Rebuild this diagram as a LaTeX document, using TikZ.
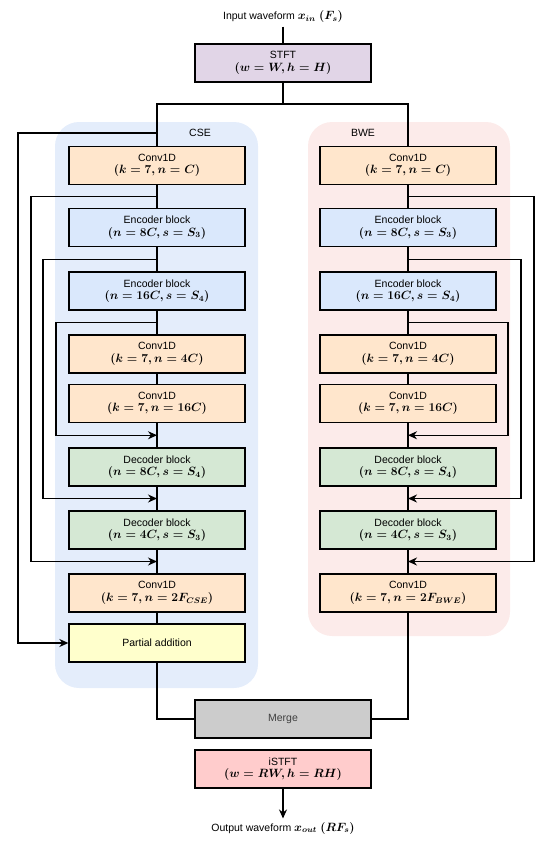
\documentclass[tikz,border=0pt]{standalone}
\usepackage[no-math]{fontspec}
\setmainfont{Liberation Sans}
\usepackage{amsmath}
\usepackage{xcolor}
\usetikzlibrary{arrows.meta,calc}
\definecolor{stftcol}{HTML}{E1D5E7}
\definecolor{convcol}{HTML}{FFE6CC}
\definecolor{enccol}{HTML}{DAE8FC}
\definecolor{deccol}{HTML}{D5E8D4}
\definecolor{addcol}{HTML}{FFFFCC}
\definecolor{mergecol}{HTML}{CCCCCC}
\definecolor{istftcol}{HTML}{FFCCCC}
\definecolor{csecol}{HTML}{E4EDFB}
\definecolor{bwecol}{HTML}{FCEBEA}
\newcommand{\mth}[1]{{\fontsize{11.8}{13}\selectfont\boldmath$#1$}}
\tikzset{
  lbl/.style={font=\fontsize{10.5}{12.5}\selectfont},
  blk/.style={draw,line width=1.3pt,minimum width=176pt,minimum height=38pt,align=center,
    inner sep=1pt,lbl},
  conv/.style={blk,fill=convcol},
  enc/.style={blk,fill=enccol},
  dec/.style={blk,fill=deccol},
  panel/.style={rounded corners=24pt},
  link/.style={line width=1.3pt},
  skip/.style={link,-{Stealth[length=9pt,width=8pt]}}
}

\begin{document}
\begin{tikzpicture}[x=1pt,y=-1pt,>=Stealth]
\useasboundingbox (0,0) rectangle (550,843);
\fill[csecol,panel] (55,122) rectangle (258,688);
\fill[bwecol,panel] (308,122) rectangle (510,636);
\node[lbl] (cse) at (200,133) {CSE};
\node[lbl] (bwe) at (363,133) {BWE};

\node[lbl] (in) at (283,17) {Input waveform \mth{x_{in}\ (F_s)}};
\node[blk,fill=stftcol] (stft) at (283,63) {STFT\\\mth{(w=W,h=H)}};

\node[conv] (cconv1) at (157,165.5) {Conv1D\\\mth{(k=7,n=C)}};
\node[enc] (cenc1) at (157,227.5) {Encoder block\\\mth{(n=8C,s=S_3)}};
\node[enc] (cenc2) at (157,291) {Encoder block\\\mth{(n=16C,s=S_4)}};
\node[conv] (cconv2) at (157,354) {Conv1D\\\mth{(k=7,n=4C)}};
\node[conv] (cconv3) at (157,403.5) {Conv1D\\\mth{(k=7,n=16C)}};
\node[dec] (cdec1) at (157,467) {Decoder block\\\mth{(n=8C,s=S_4)}};
\node[dec] (cdec2) at (157,530) {Decoder block\\\mth{(n=4C,s=S_3)}};
\node[conv] (cconv4) at (157,593) {Conv1D\\\mth{(k=7,n=2F_{CSE})}};
\node[blk,fill=addcol] (cadd) at (157,643) {Partial addition};

\node[conv] (bconv1) at (408,165.5) {Conv1D\\\mth{(k=7,n=C)}};
\node[enc] (benc1) at (408,227.5) {Encoder block\\\mth{(n=8C,s=S_3)}};
\node[enc] (benc2) at (408,291) {Encoder block\\\mth{(n=16C,s=S_4)}};
\node[conv] (bconv2) at (408,354) {Conv1D\\\mth{(k=7,n=4C)}};
\node[conv] (bconv3) at (408,403.5) {Conv1D\\\mth{(k=7,n=16C)}};
\node[dec] (bdec1) at (408,467) {Decoder block\\\mth{(n=8C,s=S_4)}};
\node[dec] (bdec2) at (408,530) {Decoder block\\\mth{(n=4C,s=S_3)}};
\node[conv] (bconv4) at (408,593) {Conv1D\\\mth{(k=7,n=2F_{BWE})}};

\node[blk,fill=mergecol,text=black!75] (merge) at (283,719) {Merge};
\node[blk,fill=istftcol] (istft) at (283,769) {iSTFT\\\mth{(w=RW,h=RH)}};
\node[lbl] (out) at (283,828) {Output waveform \mth{x_{out}\ (RF_s)}};

\coordinate (fork) at (283,104);
\coordinate (tap) at (157,133);
\draw[link] (in) -- (stft);
\draw[link] (stft) -- (fork) -| (cconv1);
\draw[link] (fork) -| (bconv1);
\foreach \s in {c,b}{
  \draw[link] (\s conv1) -- (\s enc1) -- (\s enc2) -- (\s conv2) -- (\s conv3) -- (\s dec1) -- (\s dec2) -- (\s conv4);
}
\draw[link] (cconv4) -- (cadd);
\draw[link] (cadd) |- (merge);
\draw[link] (bconv4) |- (merge);
\draw[skip] (istft) -- (out);

\draw[skip] (tap) -- ++(-139,0) |- (cadd);
\draw[skip] ($(cconv1.south)!.5!(cenc1.north)$) -- ++(-126,0) |- ($(cdec2.south)!.5!(cconv4.north)$);
\draw[skip] ($(cenc1.south)!.5!(cenc2.north)$) -- ++(-114,0) |- ($(cdec1.south)!.5!(cdec2.north)$);
\draw[skip] ($(cenc2.south)!.5!(cconv2.north)$) -- ++(-101,0) |- ($(cconv3.south)!.5!(cdec1.north)$);

\draw[skip] ($(bconv1.south)!.5!(benc1.north)$) -- ++(126,0) |- ($(bdec2.south)!.5!(bconv4.north)$);
\draw[skip] ($(benc1.south)!.5!(benc2.north)$) -- ++(113,0) |- ($(bdec1.south)!.5!(bdec2.north)$);
\draw[skip] ($(benc2.south)!.5!(bconv2.north)$) -- ++(100,0) |- ($(bconv3.south)!.5!(bdec1.north)$);
\end{tikzpicture}
\end{document}
